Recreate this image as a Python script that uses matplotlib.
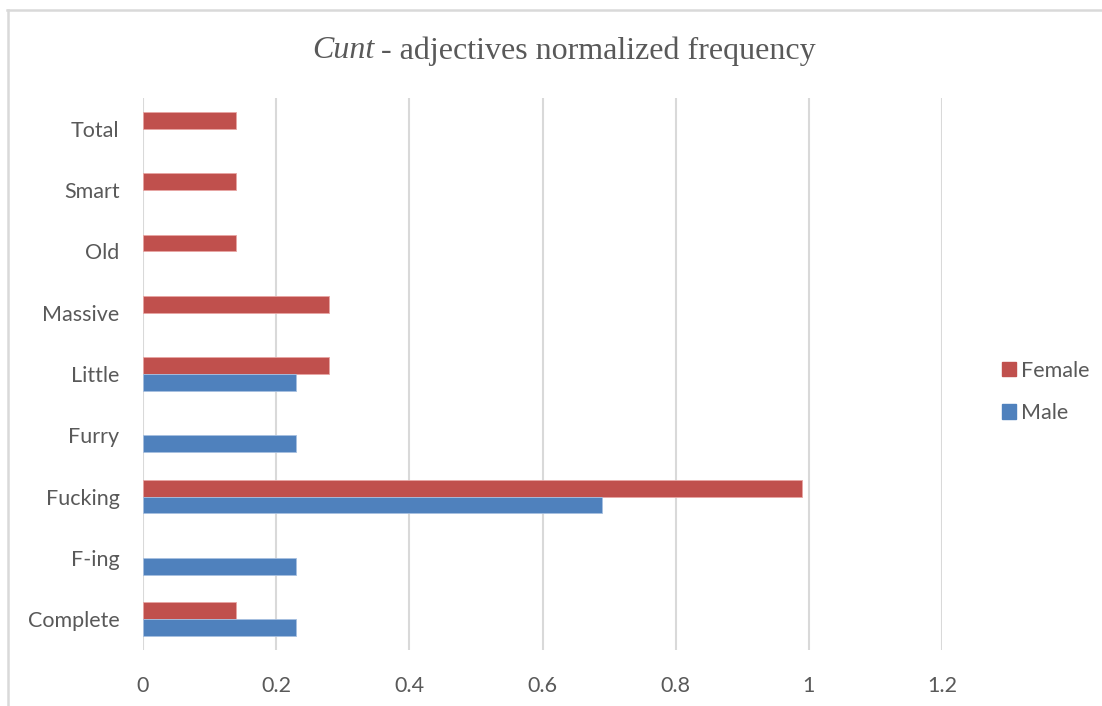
import matplotlib.pyplot as plt
import matplotlib.patches as mpatches
import numpy as np

# Data (bottom to top)
adjectives = ['Complete', 'F-ing', 'Fucking', 'Furry', 'Little', 'Massive', 'Old', 'Smart', 'Total']
female = [0.14, 0, 0.99, 0, 0.28, 0.28, 0.14, 0.14, 0.14]
male = [0.23, 0.23, 0.69, 0.23, 0.23, 0, 0, 0, 0]
x_ticks = [0, 0.2, 0.4, 0.6, 0.8, 1, 1.2]
x_labels = ['0', '0.2', '0.4', '0.6', '0.8', '1', '1.2']

red = '#C0504D'
blue = '#4F81BD'
text_grey = '#595959'
grid_grey = '#D9D9D9'

plt.rcParams['font.family'] = ['Lato', 'DejaVu Sans']

fig = plt.figure(figsize=(11.02, 7.06), dpi=100)
ax = fig.add_axes([0.1298, 0.0795, 0.725, 0.7815])

y_pos = np.arange(len(adjectives))
bar_h = 0.275
fem = np.array(female, dtype=float)
mal = np.array(male, dtype=float)
# skip empty bars so no stray edge lines show
fm = fem > 0
mm = mal > 0
ax.barh(y_pos[fm] + bar_h / 2, fem[fm], height=bar_h, color=red, edgecolor='#E8A5A3', linewidth=0.6, zorder=3)
ax.barh(y_pos[mm] - bar_h / 2, mal[mm], height=bar_h, color=blue, edgecolor='#A7C0E0', linewidth=0.6, zorder=3)

ax.set_xlim(0, 1.2)
ax.set_ylim(-0.5, len(adjectives) - 0.5)
ax.set_xticks(x_ticks)
ax.set_xticklabels(x_labels)
ax.set_yticks(y_pos)
ax.set_yticklabels(adjectives)

ax.grid(axis='x', color=grid_grey, linewidth=1.5, zorder=0)
ax.tick_params(axis='both', length=0, labelsize=15.5, labelcolor=text_grey)
ax.tick_params(axis='y', pad=17)
ax.tick_params(axis='x', pad=19)
for s in ax.spines.values():
    s.set_visible(False)

# title, Times-like with italic word
fig.text(0.2835, 0.928, 'Cunt', fontsize=23, family='Liberation Serif', style='italic',
         color=text_grey, ha='left', va='center')
fig.text(0.3385, 0.928, ' - adjectives normalized frequency', fontsize=23, family='Liberation Serif',
         color=text_grey, ha='left', va='center')

# legend
handles = [mpatches.Patch(color=red, label='Female'), mpatches.Patch(color=blue, label='Male')]
fig.legend(handles=handles, loc='center left', bbox_to_anchor=(0.8915, 0.445), frameon=False,
           fontsize=15.5, labelcolor=text_grey, handlelength=0.65, handleheight=0.65,
           handletextpad=0.25, labelspacing=1.05)

# chart frame (top and left edges)
frame = '#D9D9D9'
fig.add_artist(plt.Line2D([0.0065, 1.0], [0.986, 0.986], color=frame, linewidth=1.8, transform=fig.transFigure))
fig.add_artist(plt.Line2D([0.0075, 0.0075], [0.0, 0.986], color=frame, linewidth=1.8, transform=fig.transFigure))

fig.savefig('out.png', dpi=100)
